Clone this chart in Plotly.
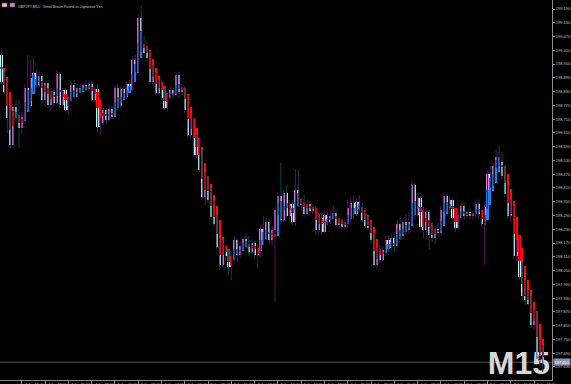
import plotly.graph_objects as go

# ---------------- data (GBPJPY M15) ----------------
OPEN = [198.989, 198.872, 198.828, 198.715, 198.597, 198.763, 198.719, 198.672, 198.719, 198.846,
        198.767, 198.889, 198.911, 198.859, 198.898, 198.793, 198.868, 198.772, 198.828, 198.781,
        198.907, 198.772, 198.837, 198.750, 198.793, 198.859, 198.807, 198.846, 198.828, 198.859,
        198.841, 198.863, 198.793, 198.841, 198.676, 198.693, 198.750, 198.706, 198.754, 198.719,
        198.846, 198.767, 198.841, 198.807, 198.863, 198.841, 198.968, 198.929, 199.151, 199.020,
        198.998, 198.976, 198.872, 198.902, 198.824, 198.872, 198.802, 198.759, 198.811, 198.837,
        198.815, 198.902, 198.828, 198.846, 198.750, 198.641, 198.689, 198.554, 198.610, 198.489,
        198.371, 198.423, 198.358, 198.284, 198.253, 198.153, 198.075, 198.149, 198.114, 198.066,
        198.109, 198.183, 198.118, 198.157, 198.188, 198.166, 198.131, 198.170, 198.118, 198.149,
        198.231, 198.192, 198.262, 198.183, 198.227, 198.314, 198.375, 198.271, 198.388, 198.288,
        198.340, 198.262, 198.401, 198.336, 198.349, 198.297, 198.340, 198.310, 198.319, 198.227,
        198.279, 198.218, 198.292, 198.262, 198.288, 198.301, 198.249, 198.266, 198.240, 198.253,
        198.323, 198.345, 198.297, 198.349, 198.319, 198.271, 198.245, 198.236, 198.183, 198.075,
        198.131, 198.096, 198.140, 198.183, 198.149, 198.192, 198.157, 198.253, 198.201, 198.262,
        198.227, 198.262, 198.423, 198.292, 198.367, 198.240, 198.227, 198.305, 198.205, 198.192,
        198.231, 198.214, 198.314, 198.375, 198.323, 198.358, 198.279, 198.236, 198.288, 198.332,
        198.288, 198.305, 198.288, 198.297, 198.340, 198.297, 198.253, 198.327, 198.471, 198.428,
        198.506, 198.545, 198.524, 198.462, 198.384, 198.288, 198.297, 198.114, 198.140, 198.022,
        197.939, 197.922, 197.905, 197.813, 197.835, 197.678, 197.704]

HIGH = [199.011, 198.916, 198.872, 198.750, 198.776, 198.793, 198.793, 198.741, 198.863, 198.989,
        198.968, 198.976, 198.924, 198.916, 198.907, 198.881, 198.881, 198.846, 198.846, 198.924,
        198.916, 198.846, 198.846, 198.802, 198.872, 198.881, 198.863, 198.859, 198.872, 198.881,
        198.881, 198.881, 198.854, 198.863, 198.715, 198.759, 198.759, 198.772, 198.767, 198.859,
        198.863, 198.854, 198.854, 198.872, 198.881, 198.985, 198.989, 199.168, 199.207, 199.072,
        199.046, 199.011, 198.946, 198.916, 198.881, 198.881, 198.846, 198.820, 198.854, 198.846,
        198.916, 198.916, 198.863, 198.854, 198.815, 198.715, 198.715, 198.641, 198.628, 198.576,
        198.480, 198.462, 198.410, 198.358, 198.292, 198.192, 198.183, 198.162, 198.140, 198.122,
        198.201, 198.192, 198.175, 198.201, 198.210, 198.201, 198.183, 198.183, 198.166, 198.249,
        198.288, 198.279, 198.271, 198.245, 198.332, 198.393, 198.519, 198.401, 198.423, 198.358,
        198.358, 198.493, 198.489, 198.367, 198.380, 198.358, 198.353, 198.340, 198.332, 198.301,
        198.305, 198.314, 198.305, 198.314, 198.336, 198.314, 198.288, 198.279, 198.271, 198.358,
        198.367, 198.375, 198.367, 198.380, 198.345, 198.323, 198.292, 198.262, 198.214, 198.149,
        198.162, 198.157, 198.201, 198.205, 198.210, 198.201, 198.271, 198.279, 198.279, 198.297,
        198.305, 198.445, 198.432, 198.388, 198.375, 198.327, 198.323, 198.314, 198.262, 198.245,
        198.258, 198.332, 198.393, 198.388, 198.375, 198.367, 198.323, 198.301, 198.349, 198.345,
        198.314, 198.319, 198.314, 198.358, 198.358, 198.314, 198.345, 198.489, 198.506, 198.524,
        198.576, 198.597, 198.567, 198.510, 198.423, 198.358, 198.332, 198.183, 198.201, 198.088,
        198.009, 197.966, 197.939, 197.878, 197.870, 197.748, 197.726]

LOW = [198.854, 198.815, 198.650, 198.584, 198.584, 198.698, 198.584, 198.645, 198.706, 198.750,
       198.759, 198.828, 198.846, 198.850, 198.781, 198.772, 198.759, 198.750, 198.767, 198.772,
       198.759, 198.767, 198.741, 198.728, 198.785, 198.802, 198.802, 198.824, 198.824, 198.833,
       198.828, 198.789, 198.785, 198.650, 198.641, 198.685, 198.689, 198.698, 198.711, 198.715,
       198.750, 198.759, 198.798, 198.798, 198.833, 198.833, 198.916, 198.916, 199.003, 198.985,
       198.968, 198.863, 198.854, 198.815, 198.811, 198.793, 198.750, 198.741, 198.798, 198.802,
       198.807, 198.802, 198.815, 198.733, 198.632, 198.628, 198.545, 198.541, 198.480, 198.362,
       198.336, 198.345, 198.275, 198.245, 198.140, 198.053, 198.062, 198.096, 198.031, 198.009,
       198.088, 198.088, 198.105, 198.140, 198.149, 198.114, 198.122, 198.105, 198.062, 198.105,
       198.162, 198.183, 198.162, 198.162, 197.913, 198.292, 198.253, 198.262, 198.275, 198.271,
       198.249, 198.245, 198.327, 198.314, 198.284, 198.288, 198.297, 198.297, 198.205, 198.214,
       198.205, 198.210, 198.249, 198.253, 198.271, 198.236, 198.231, 198.227, 198.227, 198.236,
       198.253, 198.279, 198.288, 198.305, 198.262, 198.236, 198.227, 198.166, 198.062, 198.053,
       198.083, 198.088, 198.114, 198.131, 198.140, 198.131, 198.149, 198.183, 198.183, 198.205,
       198.210, 198.253, 198.275, 198.284, 198.231, 198.192, 198.197, 198.140, 198.175, 198.166,
       198.201, 198.205, 198.305, 198.305, 198.297, 198.262, 198.218, 198.227, 198.275, 198.271,
       198.275, 198.275, 198.271, 198.279, 198.279, 198.240, 198.075, 198.319, 198.410, 198.419,
       198.497, 198.506, 198.449, 198.371, 198.275, 198.262, 198.101, 198.088, 198.009, 197.922,
       197.900, 197.896, 197.800, 197.791, 197.665, 197.635, 197.608]

CLOSE = [198.872, 198.828, 198.715, 198.597, 198.763, 198.719, 198.672, 198.719, 198.846, 198.767,
         198.889, 198.911, 198.859, 198.898, 198.793, 198.868, 198.772, 198.828, 198.781, 198.907,
         198.772, 198.837, 198.750, 198.793, 198.859, 198.807, 198.846, 198.828, 198.859, 198.841,
         198.863, 198.793, 198.841, 198.676, 198.693, 198.750, 198.706, 198.754, 198.719, 198.846,
         198.767, 198.841, 198.807, 198.863, 198.841, 198.968, 198.929, 199.151, 199.020, 198.998,
         198.976, 198.872, 198.902, 198.824, 198.872, 198.802, 198.759, 198.811, 198.837, 198.815,
         198.902, 198.828, 198.846, 198.750, 198.641, 198.689, 198.554, 198.610, 198.489, 198.371,
         198.423, 198.358, 198.284, 198.253, 198.153, 198.075, 198.149, 198.114, 198.066, 198.109,
         198.183, 198.118, 198.157, 198.188, 198.166, 198.131, 198.170, 198.118, 198.149, 198.231,
         198.192, 198.262, 198.183, 198.227, 198.314, 198.375, 198.271, 198.388, 198.288, 198.340,
         198.262, 198.401, 198.336, 198.349, 198.297, 198.340, 198.310, 198.319, 198.227, 198.279,
         198.218, 198.292, 198.262, 198.288, 198.301, 198.249, 198.266, 198.240, 198.253, 198.323,
         198.345, 198.297, 198.349, 198.319, 198.271, 198.245, 198.236, 198.183, 198.075, 198.131,
         198.096, 198.140, 198.183, 198.149, 198.192, 198.157, 198.253, 198.201, 198.262, 198.227,
         198.262, 198.423, 198.292, 198.367, 198.240, 198.227, 198.305, 198.205, 198.192, 198.231,
         198.214, 198.314, 198.375, 198.323, 198.358, 198.279, 198.236, 198.288, 198.332, 198.288,
         198.305, 198.288, 198.297, 198.340, 198.297, 198.253, 198.327, 198.471, 198.428, 198.506,
         198.545, 198.524, 198.462, 198.384, 198.288, 198.297, 198.114, 198.140, 198.022, 197.939,
         197.922, 197.905, 197.813, 197.835, 197.678, 197.704, 197.652]

Y_TICKS = [197.630, 197.690, 197.750, 197.810, 197.870, 197.930, 197.990, 198.050, 198.110,
           198.170, 198.230, 198.290, 198.350, 198.410, 198.470, 198.530, 198.590, 198.650,
           198.710, 198.770, 198.830, 198.890, 198.950, 199.010, 199.070, 199.130, 199.190]

X_TICK_BARS = [-1, 7, 15, 23, 31, 39, 47, 55, 63, 71, 79, 87, 95, 103, 111, 119, 127, 135,
               143, 151, 159, 167, 175, 183]
X_TICK_TEXT = ["4 Jun 14:00", "4 Jun 16:00", "4 Jun 18:00", "4 Jun 20:00", "4 Jun 22:00",
               "5 Jun 00:00", "5 Jun 02:00", "5 Jun 04:00", "5 Jun 06:00", "5 Jun 08:00",
               "5 Jun 10:00", "5 Jun 12:00", "5 Jun 14:00", "5 Jun 16:00", "5 Jun 18:00",
               "5 Jun 20:00", "5 Jun 22:00", "6 Jun 00:00", "6 Jun 02:00", "6 Jun 04:00",
               "6 Jun 06:00", "6 Jun 08:00", "6 Jun 10:00", "6 Jun 12:00"]

TITLE = "GBPJPY,M15:  Great Britain Pound vs Japanese Yen"
LAST_PRICE = 197.651
TIMEFRAME = "M15"

# ---------------- derived series ----------------
n = len(CLOSE)
idx = list(range(n))

# Heiken Ashi overlay computed from the candles
ha_close = [(OPEN[i] + HIGH[i] + LOW[i] + CLOSE[i]) / 4 for i in idx]
ha_open = [0.0] * n
ha_open[0] = (OPEN[0] + CLOSE[0]) / 2
for i in range(1, n):
    ha_open[i] = (ha_open[i - 1] + ha_close[i - 1]) / 2

MIN_BODY = 0.003
BULL_BODY = "#e67ee6"
BEAR_BODY = "#cdf6f6"
BULL_WICK = "#52125a"
BEAR_WICK = "#0f4250"
HA_BULL = "#1f7fe6"
HA_BEAR = "#ff0a0a"

fig = go.Figure()

# watermark-free wicks
for bull, col in ((True, BULL_WICK), (False, BEAR_WICK)):
    xs, ys = [], []
    for i in idx:
        if (CLOSE[i] >= OPEN[i]) == bull:
            xs += [i, i, None]
            ys += [LOW[i], HIGH[i], None]
    fig.add_trace(go.Scatter(x=xs, y=ys, mode="lines",
                             line=dict(color=col, width=1), hoverinfo="skip"))

# regular bodies
fig.add_trace(go.Bar(
    x=idx,
    base=[min(OPEN[i], CLOSE[i]) for i in idx],
    y=[max(abs(CLOSE[i] - OPEN[i]), MIN_BODY) for i in idx],
    width=0.72,
    marker=dict(color=[BULL_BODY if CLOSE[i] >= OPEN[i] else BEAR_BODY for i in idx],
                line=dict(width=0)),
    hoverinfo="skip"))

# Heiken Ashi bodies
fig.add_trace(go.Bar(
    x=idx,
    base=[min(ha_open[i], ha_close[i]) for i in idx],
    y=[max(abs(ha_close[i] - ha_open[i]), MIN_BODY) for i in idx],
    width=0.72,
    marker=dict(color=[HA_BULL if ha_close[i] >= ha_open[i] else HA_BEAR for i in idx],
                line=dict(width=0)),
    hoverinfo="skip"))

axis_col = "#8c8c8c"
text_col = "#c8c8c8"

fig.update_layout(
    width=571, height=384,
    margin=dict(l=0, r=19, t=0, b=4),
    paper_bgcolor="black", plot_bgcolor="black",
    showlegend=False, barmode="overlay", bargap=0,
    font=dict(family="Liberation Sans", color=text_col),
    xaxis=dict(range=[-0.515, 189.18], showgrid=False, zeroline=False,
               showline=True, linecolor=axis_col, linewidth=1,
               ticks="outside", ticklen=3, tickcolor=axis_col, tickwidth=1,
               tickvals=X_TICK_BARS, showticklabels=False, fixedrange=True),
    yaxis=dict(side="right", range=[197.5733, 199.2292], showgrid=False, zeroline=False,
               showline=True, linecolor=axis_col, linewidth=1,
               ticks="outside", ticklen=2, tickcolor=axis_col, tickwidth=1,
               tickvals=Y_TICKS, ticktext=[f"{v:.3f}" for v in Y_TICKS],
               tickfont=dict(size=4, color=text_col), fixedrange=True),
)

annotations = []
for b, t in zip(X_TICK_BARS, X_TICK_TEXT):
    annotations.append(dict(x=b, y=0, xref="x", yref="paper", text=t, showarrow=False,
                            xanchor="left", yanchor="top", xshift=1, yshift=-1,
                            font=dict(size=3.6, color=text_col)))
annotations.append(dict(x=0, y=1, xref="paper", yref="paper", text=TITLE, showarrow=False,
                        xanchor="left", yanchor="top", xshift=16, yshift=-3,
                        font=dict(size=3.6, color=text_col)))
annotations.append(dict(x=1, y=LAST_PRICE, xref="paper", yref="y", text=f"{LAST_PRICE:.3f}",
                        showarrow=False, xanchor="left", yanchor="middle", xshift=1,
                        bgcolor="#8796ac", borderpad=0.5,
                        font=dict(size=4, color="white")))
fig.update_layout(annotations=annotations)

shapes = [
    dict(type="line", xref="paper", yref="y", x0=0, x1=1, y0=LAST_PRICE, y1=LAST_PRICE,
         line=dict(color="#4c5858", width=1), layer="below"),
    dict(type="rect", xref="paper", yref="paper", x0=0.0036, x1=0.0127, y0=0.9816, y1=0.992,
         fillcolor="#d9b8c8", line=dict(color="#c04050", width=0.5)),
    dict(type="rect", xref="paper", yref="paper", x0=0.018, x1=0.027, y0=0.9816, y1=0.992,
         fillcolor="#7fa6d8", line=dict(color="#c04050", width=0.5)),
    dict(type="rect", xref="paper", yref="paper", x0=0.88, x1=1.0, y0=0.0, y1=0.105,
         line=dict(width=0), fillcolor="rgba(0,0,0,0)", layer="below",
         label=dict(text=TIMEFRAME, textposition="middle center",
                    font=dict(size=32, color="#d6d6d6", family="Liberation Sans", weight="bold"))),
]
fig.update_layout(shapes=shapes)

fig.write_html("out.html")
